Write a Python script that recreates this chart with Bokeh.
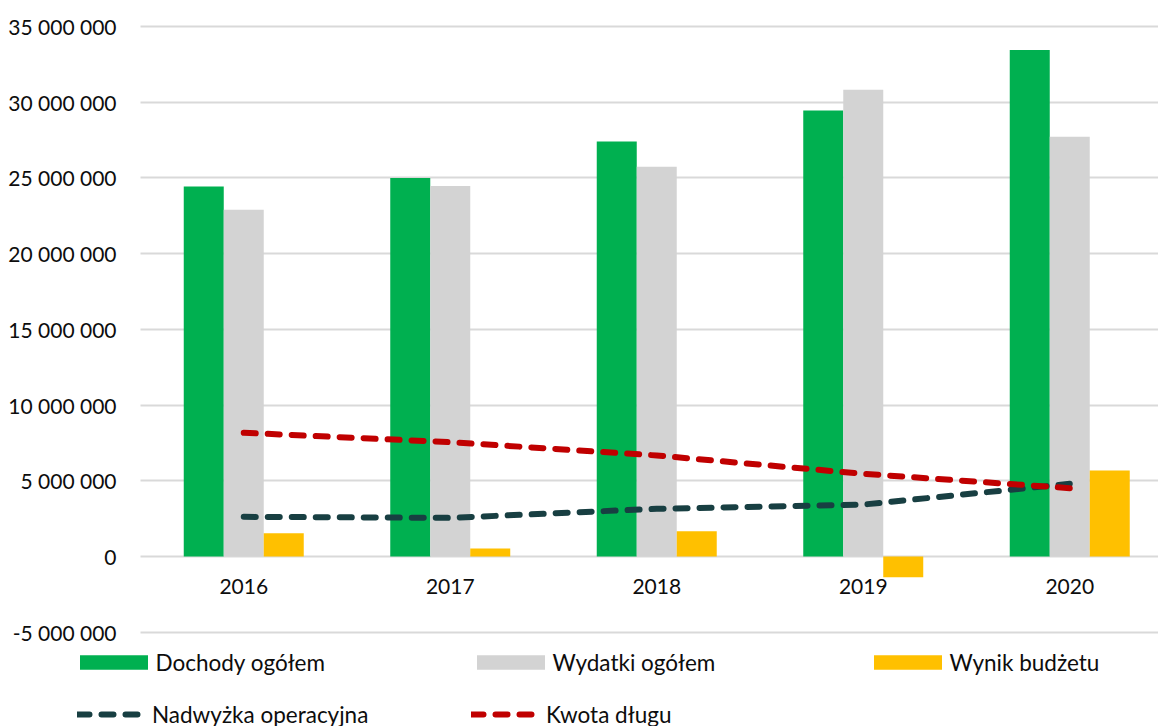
import numpy as np
from bokeh.plotting import figure
from bokeh.models import ColumnDataSource, Range1d, FixedTicker, Legend, LegendItem
from bokeh.transform import dodge
from bokeh.embed import file_html
from bokeh.resources import INLINE

# ---- data ----
years = ["2016", "2017", "2018", "2019", "2020"]
dochody = [24_440_000, 24_990_000, 27_410_000, 29_460_000, 33_440_000]
wydatki = [22_900_000, 24_460_000, 25_740_000, 30_820_000, 27_720_000]
wynik = [1_540_000, 530_000, 1_670_000, -1_370_000, 5_680_000]
nadwyzka = [2_620_000, 2_550_000, 3_150_000, 3_430_000, 4_800_000]
kwota = [8_170_000, 7_550_000, 6_670_000, 5_460_000, 4_510_000]
y_ticks = [-5_000_000, 0, 5_000_000, 10_000_000, 15_000_000, 20_000_000,
           25_000_000, 30_000_000, 35_000_000]
series_names = ["Dochody ogółem", "Wydatki ogółem", "Wynik budżetu",
                "Nadwyżka operacyjna", "Kwota długu"]

FONT = "Lato"
TXT = "#0d0d0d"
C_DOCH, C_WYD, C_WYN = "#00b050", "#d3d3d3", "#ffc000"
C_NAD, C_KW = "#183f42", "#c00000"

idx = list(range(len(years)))
src = ColumnDataSource(dict(x=idx, dochody=dochody, wydatki=wydatki, wynik=wynik,
                            nadwyzka=nadwyzka, kwota=kwota))

W, H = 1158, 726
PX_PER_CAT = 206.5          # pixels per category
PX_PER_UNIT = 15.1425e-6    # pixels per value unit
X_LEFT = -0.5               # plot-area edge where the value axis sits
x_start = X_LEFT - 140 / PX_PER_CAT
x_end = x_start + W / PX_PER_CAT
y_end = y_ticks[-1] + 26 / PX_PER_UNIT
y_start = y_end - H / PX_PER_UNIT

p = figure(width=W, height=H, output_backend="svg", toolbar_location=None,
           x_range=Range1d(x_start, x_end), y_range=Range1d(y_start, y_end),
           min_border_left=0, min_border_right=0, min_border_top=0, min_border_bottom=0)
p.outline_line_color = None

bw = 0.1937
bar_kw = dict(width=bw, source=src, line_color=None)
r_doch = p.vbar(x=dodge("x", -bw, range=p.x_range), top="dochody", fill_color=C_DOCH, **bar_kw)
r_wyd = p.vbar(x=dodge("x", 0, range=p.x_range), top="wydatki", fill_color=C_WYD, **bar_kw)
r_wyn = p.vbar(x=dodge("x", bw, range=p.x_range), top="wynik", fill_color=C_WYN, **bar_kw)
line_kw = dict(source=src, line_width=6, line_dash="12 12", line_cap="round")
r_nad = p.line("x", "nadwyzka", line_color=C_NAD, **line_kw)
r_kw = p.line("x", "kwota", line_color=C_KW, **line_kw)

p.xgrid.visible = False
g = p.ygrid[0]
g.ticker = FixedTicker(ticks=y_ticks)
g.grid_line_color = "#d9d9d9"
g.grid_line_width = 2
g.cross_bounds = (X_LEFT, x_end)

yax = p.yaxis[0]
yax.ticker = FixedTicker(ticks=y_ticks)
yax.major_label_overrides = {t: f"{t:,}".replace(",", " ") for t in y_ticks}
yax.fixed_location = X_LEFT
yax.axis_line_color = None
yax.major_tick_line_color = None
yax.minor_tick_line_color = None
yax.major_tick_out = 0
yax.major_tick_in = 0
yax.major_label_standoff = 24
yax.major_label_text_font = FONT
yax.major_label_text_font_size = "21px"
yax.major_label_text_color = TXT

xax = p.xaxis[0]
xax.ticker = FixedTicker(ticks=idx)
xax.major_label_overrides = {i: y for i, y in zip(idx, years)}
xax.fixed_location = 0
xax.axis_line_color = None
xax.major_tick_line_color = None
xax.minor_tick_line_color = None
xax.major_label_standoff = 17
xax.major_label_text_font = FONT
xax.major_label_text_font_size = "21px"
xax.major_label_text_color = TXT

common = dict(orientation="horizontal", padding=0, margin=0, spacing=0,
              background_fill_alpha=0, border_line_color=None,
              label_text_font=FONT, label_text_font_size="22.5px",
              label_text_color=TXT, label_height=28)
leg_a = Legend(items=[LegendItem(label=series_names[0], renderers=[r_doch]),
                      LegendItem(label=series_names[1], renderers=[r_wyd]),
                      LegendItem(label=series_names[2], renderers=[r_wyn])],
               location=(70.5, 50), glyph_width=85, glyph_height=18,
               label_standoff=-7, label_width=312, **common)
leg_b = Legend(items=[LegendItem(label=series_names[3], renderers=[r_nad]),
                      LegendItem(label=series_names[4], renderers=[r_kw])],
               location=(77, -2), glyph_width=68, glyph_height=20,
               label_standoff=7, label_width=319, **common)
p.add_layout(leg_a, "center")
p.add_layout(leg_b, "center")

open("out.html", "w").write(file_html(p, INLINE))
